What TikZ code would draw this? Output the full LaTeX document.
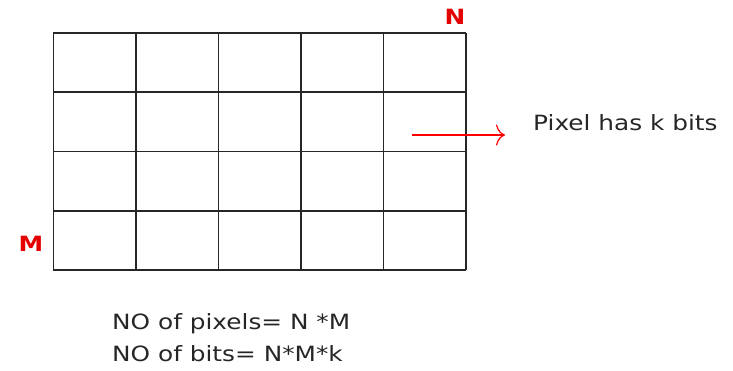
\documentclass[tikz,border=0pt]{standalone}
\usepackage{fontspec}
\setmainfont{DejaVu Sans}[FakeStretch=1.18]
\usetikzlibrary{arrows.meta}
\begin{document}
\begin{tikzpicture}[x=1pt,y=-1pt,
  gridline/.style={line width=1.6pt,black!85},
  redlabel/.style={text=red!90!black,font=\bfseries\fontsize{21}{24}\selectfont,inner sep=0pt},
  plain/.style={font=\fontsize{21}{24}\selectfont,inner sep=0pt,anchor=west,text=black!85}]
\useasboundingbox (0,0) rectangle (733,370);
\foreach \i in {0,...,5} {
  \draw[gridline] ({53.3+\i*82.54},33) -- ({53.3+\i*82.54},270);
}
\foreach \j in {0,...,4} {
  \draw[gridline] (53.3,{33+\j*59.25}) -- (466,{33+\j*59.25});
}
\node[redlabel] (N) at (455,16.5) {N};
\node[redlabel] (M) at (31,244) {M};
\coordinate (a0) at (412,135);
\coordinate (a1) at (505,135);
\draw[red, line width=1.2pt, -{To[length=9pt,width=21pt]}] (a0) -- (a1);
\node[plain] (pix) at (533,123) {Pixel has k bits};
\node[plain] (np) at (112,324) {NO of pixels= N *M};
\node[plain] (nb) at (112,354) {NO of bits= N*M*k};
\end{tikzpicture}
\end{document}
